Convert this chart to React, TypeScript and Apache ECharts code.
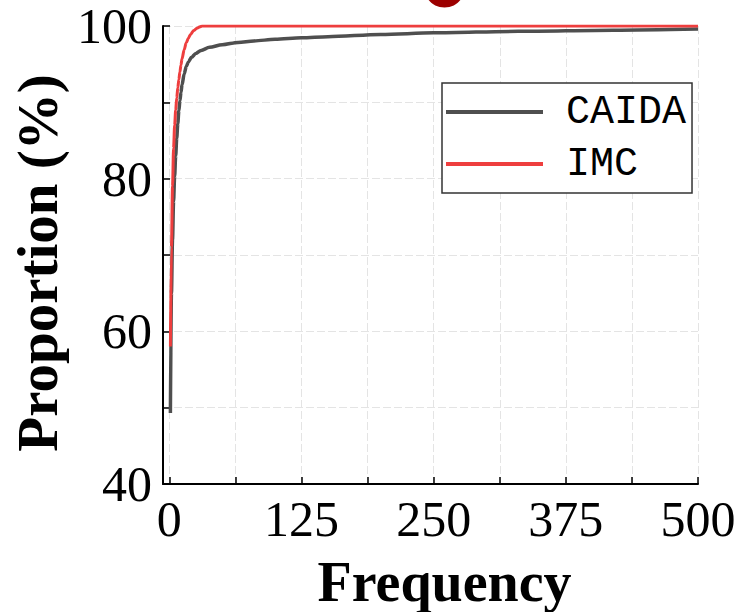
import React, { useEffect, useRef } from "react";
import * as echarts from "echarts";

// Cumulative share of flows (%) by frequency
const caidaFreq = [1, 2, 3, 4, 5, 6, 7, 8, 9, 10, 11, 12, 14, 16, 18, 21, 25, 30, 38, 50, 65, 80, 100, 125, 150, 200, 250, 330, 420, 500];
const caidaProp = [49.3, 65, 72, 77, 80.3, 83, 85.3, 87.2, 88.9, 90.2, 91.3, 92.3, 93.7, 94.7, 95.3, 95.9, 96.4, 96.8, 97.2, 97.55, 97.85, 98.05, 98.25, 98.45, 98.6, 98.9, 99.1, 99.3, 99.45, 99.6];

const imcFreq = [1, 2, 3, 4, 5, 6, 7, 8, 9, 10, 11, 12, 14, 16, 18, 20, 23, 26, 29, 31, 500];
const imcProp = [58, 71, 79, 84, 87, 89, 90.6, 91.9, 93, 94, 94.9, 95.7, 96.9, 97.8, 98.4, 98.9, 99.4, 99.7, 99.9, 100, 100];

const xTicks = [0, 62.5, 125, 187.5, 250, 312.5, 375, 437.5, 500];
const xLabels = [0, 125, 250, 375, 500];

const seriesNames = ["CAIDA", "IMC"];
const seriesColors = ["#4f4f4f", "#ee3e3e"];

const pairs = (xs: number[], ys: number[]) => xs.map((x, i) => [x, ys[i]]);

export default function App() {
  const ref = useRef<HTMLDivElement>(null);

  useEffect(() => {
    if (!ref.current) return;
    const chart = echarts.init(ref.current, null, { renderer: "svg" });
    const serif = "Liberation Serif, Times New Roman, serif";
    const gridLine = { show: true, lineStyle: { color: "#e4e4e4", width: 1, type: [8, 3] as any } };

    chart.setOption({
      animation: false,
      backgroundColor: "#ffffff",
      grid: { left: 163, right: 45, top: 26, bottom: 128, containLabel: false, outerBoundsMode: "none" },
      legend: {
        orient: "vertical",
        left: 442,
        top: 83,
        data: seriesNames,
        icon: "rect",
        itemWidth: 97,
        itemHeight: 4,
        itemGap: 12,
        padding: [9, 6, 9, 4],
        borderColor: "#333333",
        borderWidth: 1.5,
        backgroundColor: "#ffffff",
        textStyle: {
          fontFamily: "Liberation Mono, DejaVu Sans Mono, monospace",
          fontSize: 40,
          lineHeight: 40,
          color: "#000000",
          padding: [0, 0, 0, 18],
        },
      },
      xAxis: {
        type: "value",
        min: -6,
        max: 500,
        name: "Frequency",
        nameLocation: "middle",
        nameGap: 70,
        nameTextStyle: { fontFamily: serif, fontSize: 56, fontWeight: "bold", color: "#000", padding: [0, 0, 0, 28] },
        axisLine: { show: true, onZero: false, lineStyle: { color: "#000", width: 2 } },
        axisTick: { show: true, inside: true, length: 7, customValues: xTicks, lineStyle: { color: "#000", width: 1.5 } },
        axisLabel: {
          customValues: xLabels,
          fontFamily: serif,
          fontSize: 50,
          color: "#000",
          margin: 10,
          hideOverlap: false,
        },
        splitLine: gridLine,
      },
      yAxis: {
        type: "value",
        min: 40,
        max: 100,
        interval: 10,
        name: "Proportion (%)",
        nameLocation: "middle",
        nameGap: 92,
        nameTextStyle: { fontFamily: serif, fontSize: 57, fontWeight: "bold", color: "#000", padding: [0, 16, 0, 0] },
        axisLine: { show: true, onZero: false, lineStyle: { color: "#000", width: 2 } },
        axisTick: { show: true, inside: true, length: 7, lineStyle: { color: "#000", width: 1.5 } },
        axisLabel: {
          fontFamily: serif,
          fontSize: 50,
          lineHeight: 36,
          color: "#000",
          margin: 11,
          formatter: (v: number) => (v % 20 === 0 ? String(v) : ""),
        },
        splitLine: gridLine,
      },
      graphic: [
        {
          type: "ellipse",
          shape: { cx: 444.5, cy: -8, rx: 18.5, ry: 15.5 },
          style: { fill: "#9c0000" },
          silent: true,
        },
      ],
      series: [
        {
          name: seriesNames[0],
          type: "line",
          data: pairs(caidaFreq, caidaProp),
          smooth: 0.3,
          smoothMonotone: "x",
          showSymbol: false,
          symbol: "none",
          lineStyle: { color: seriesColors[0], width: 3.5 },
          itemStyle: { color: seriesColors[0] },
          z: 2,
        },
        {
          name: seriesNames[1],
          type: "line",
          data: pairs(imcFreq, imcProp),
          smooth: 0.3,
          smoothMonotone: "x",
          showSymbol: false,
          symbol: "none",
          lineStyle: { color: seriesColors[1], width: 3 },
          itemStyle: { color: seriesColors[1] },
          z: 3,
        },
      ],
    });

    return () => chart.dispose();
  }, []);

  return (
    <div
      ref={ref}
      style={{ position: "fixed", left: 0, top: 0, width: 743, height: 612, background: "#fff" }}
    />
  );
}
